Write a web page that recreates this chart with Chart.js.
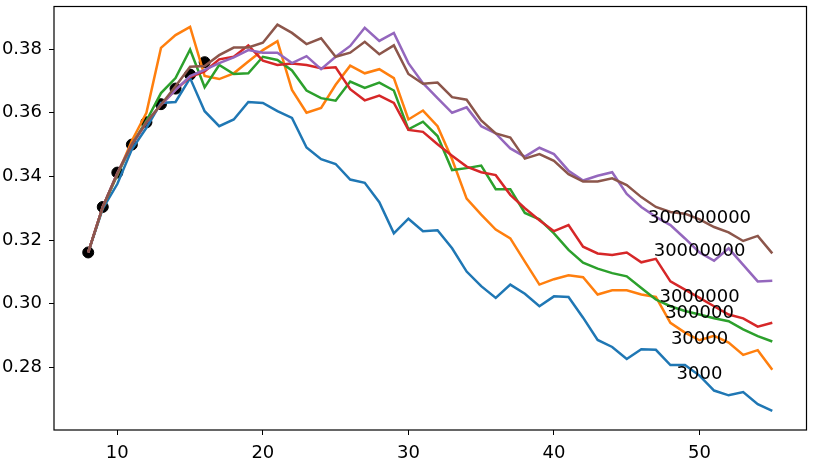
<!DOCTYPE html>
<html lang="en">
<head>
  <meta charset="UTF-8" />
  <title>Curves</title>
  <script src="https://cdn.jsdelivr.net/npm/chart.js"></script>
  <style>
    html, body {
      margin: 0;
      padding: 0;
      background: #fff;
    }
    #wrap {
      width: 813px;
      height: 458px;
    }
  </style>
</head>
<body>
  <div id="wrap"><canvas id="chart" width="813" height="458"></canvas></div>

  <script>
    // x positions 8..55
    const xValues = [8, 9, 10, 11, 12, 13, 14, 15, 16, 17, 18, 19, 20, 21, 22, 23, 24, 25, 26, 27, 28, 29, 30, 31,
      32, 33, 34, 35, 36, 37, 38, 39, 40, 41, 42, 43, 44, 45, 46, 47, 48, 49, 50, 51, 52, 53, 54, 55];

    const labels = ["3000", "30000", "300000", "3000000", "30000000", "300000000"];
    const colors = ["#1f77b4", "#ff7f0e", "#2ca02c", "#d62728", "#9467bd", "#8c564b"];

    const s3000 = [0.3161, 0.3299, 0.3376, 0.3485, 0.3553, 0.3631, 0.3634, 0.3709, 0.3605, 0.3558, 0.3579, 0.3634,
      0.3631, 0.3605, 0.3584, 0.3491, 0.3454, 0.3439, 0.3390, 0.3380, 0.3319, 0.3221, 0.3267, 0.3228,
      0.3231, 0.3174, 0.3101, 0.3055, 0.3018, 0.3060, 0.3031, 0.2992, 0.3023, 0.3021, 0.2956, 0.2886,
      0.2864, 0.2826, 0.2857, 0.2855, 0.2807, 0.2807, 0.2774, 0.2727, 0.2712, 0.2722, 0.2684, 0.2663];
    const s30000 = [0.3161, 0.3305, 0.3405, 0.3512, 0.3600, 0.3804, 0.3844, 0.3870, 0.3716, 0.3706, 0.3724, 0.3761,
      0.3797, 0.3825, 0.3672, 0.3600, 0.3615, 0.3688, 0.3748, 0.3724, 0.3737, 0.3709, 0.3579, 0.3607,
      0.3558, 0.3454, 0.3330, 0.3280, 0.3233, 0.3205, 0.3132, 0.3060, 0.3077, 0.3089, 0.3083, 0.3029,
      0.3042, 0.3042, 0.3029, 0.3021, 0.2940, 0.2909, 0.2885, 0.2899, 0.2878, 0.2839, 0.2854, 0.2792];
    const s300000 = [0.3161, 0.3302, 0.3405, 0.3500, 0.3575, 0.3662, 0.3709, 0.3799, 0.3680, 0.3750, 0.3722, 0.3724,
      0.3776, 0.3766, 0.3733, 0.3670, 0.3646, 0.3638, 0.3698, 0.3678, 0.3695, 0.3670, 0.3548, 0.3572,
      0.3527, 0.3420, 0.3426, 0.3434, 0.3360, 0.3360, 0.3285, 0.3265, 0.3221, 0.3169, 0.3129, 0.3110,
      0.3096, 0.3086, 0.3049, 0.3013, 0.2992, 0.2977, 0.2966, 0.2954, 0.2945, 0.2919, 0.2898, 0.2881];
    const s3000000 = [0.3161, 0.3304, 0.3410, 0.3500, 0.3570, 0.3625, 0.3672, 0.3712, 0.3730, 0.3768, 0.3776, 0.3812,
      0.3764, 0.3750, 0.3755, 0.3750, 0.3740, 0.3743, 0.3674, 0.3639, 0.3654, 0.3631, 0.3546, 0.3540,
      0.3501, 0.3465, 0.3431, 0.3413, 0.3404, 0.3342, 0.3300, 0.3262, 0.3228, 0.3247, 0.3179, 0.3158,
      0.3153, 0.3161, 0.3130, 0.3141, 0.3070, 0.3044, 0.3018, 0.2992, 0.2966, 0.2954, 0.2928, 0.2940];
    const s30000000 = [0.3161, 0.3304, 0.3410, 0.3500, 0.3570, 0.3625, 0.3672, 0.3715, 0.3735, 0.3756, 0.3774, 0.3797,
      0.3789, 0.3789, 0.3756, 0.3778, 0.3737, 0.3776, 0.3810, 0.3867, 0.3826, 0.3851, 0.3756, 0.3693,
      0.3646, 0.3600, 0.3617, 0.3558, 0.3535, 0.3488, 0.3462, 0.3490, 0.3470, 0.3418, 0.3387, 0.3402,
      0.3413, 0.3345, 0.3304, 0.3273, 0.3247, 0.3205, 0.3161, 0.3135, 0.3174, 0.3122, 0.3070, 0.3072];
    const s300000000 = [0.3161, 0.3304, 0.3410, 0.3500, 0.3570, 0.3625, 0.3683, 0.3745, 0.3747, 0.3781, 0.3805, 0.3805,
      0.3820, 0.3877, 0.3851, 0.3816, 0.3834, 0.3776, 0.3789, 0.3823, 0.3784, 0.3812, 0.3722, 0.3691,
      0.3695, 0.3649, 0.3641, 0.3576, 0.3535, 0.3522, 0.3456, 0.3470, 0.3449, 0.3407, 0.3384, 0.3384,
      0.3394, 0.3373, 0.3335, 0.3304, 0.3288, 0.3283, 0.3265, 0.3241, 0.3224, 0.3197, 0.3213, 0.3158];

    // black reference dots
    const dotX = [8, 9, 10, 11, 12, 13, 14, 15, 16];
    const dotY = [0.3161, 0.3304, 0.3412, 0.3500, 0.3570, 0.3627, 0.3676, 0.3720, 0.3759];

    const xTicks = [10, 20, 30, 40, 50];
    const yTicks = [0.28, 0.30, 0.32, 0.34, 0.36, 0.38];
    const labelX = 50;

    const seriesList = [s3000, s30000, s300000, s3000000, s30000000, s300000000];

    const datasets = seriesList.map((s, i) => ({
      label: labels[i],
      data: xValues.map((x, j) => ({ x: x, y: s[j] })),
      borderColor: colors[i],
      borderWidth: 2.5,
      pointRadius: 0,
      fill: false,
      tension: 0,
      order: seriesList.length - i
    }));

    datasets.push({
      label: "dots",
      type: "scatter",
      data: dotX.map((x, j) => ({ x: x, y: dotY[j] })),
      backgroundColor: "#000",
      borderColor: "#000",
      pointRadius: 5.5,
      showLine: false,
      order: 10
    });

    // frame + end labels
    const extras = {
      id: "extras",
      afterDatasetsDraw(chart) {
        const ctx = chart.ctx;
        const a = chart.chartArea;
        const xs = chart.scales.x;
        const ys = chart.scales.y;
        ctx.save();
        ctx.font = "18px 'DejaVu Sans'";
        ctx.fillStyle = "#000";
        ctx.textAlign = "center";
        ctx.textBaseline = "middle";
        const idx = xValues.indexOf(labelX);
        seriesList.forEach((s, i) => {
          ctx.fillText(labels[i], xs.getPixelForValue(labelX), ys.getPixelForValue(s[idx]) - 1);
        });
        ctx.strokeStyle = "#000";
        ctx.lineWidth = 1.2;
        ctx.strokeRect(a.left, a.top, a.right - a.left, a.bottom - a.top);
        ctx.restore();
      }
    };

    // no extra room for edge labels, the frame sets the box
    function noPad(scale) {
      scale.paddingTop = 0;
      scale.paddingBottom = 0;
      scale.paddingLeft = 0;
      scale.paddingRight = 0;
    }

    new Chart(document.getElementById("chart"), {
      type: "line",
      data: { datasets: datasets },
      options: {
        responsive: false,
        animation: false,
        layout: { padding: { top: 3, right: 3, left: 0, bottom: 0 } },
        plugins: {
          legend: { display: false },
          tooltip: { enabled: false }
        },
        scales: {
          x: {
            type: "linear",
            min: 5.65,
            max: 57.35,
            afterBuildTicks: (scale) => { scale.ticks = xTicks.map(v => ({ value: v })); },
            afterFit: (scale) => { scale.height = 28; noPad(scale); },
            grid: { drawOnChartArea: false, drawTicks: true, tickLength: 5, color: "#000" },
            border: { display: false },
            ticks: { color: "#000", font: { family: "DejaVu Sans", size: 18 }, padding: 8, maxRotation: 0 }
          },
          y: {
            min: 0.2603,
            max: 0.3934,
            afterBuildTicks: (scale) => { scale.ticks = yTicks.map(v => ({ value: v })); },
            afterFit: (scale) => { scale.width = 54; noPad(scale); },
            grid: { drawOnChartArea: false, drawTicks: true, tickLength: 5, color: "#000" },
            border: { display: false },
            ticks: {
              color: "#000",
              font: { family: "DejaVu Sans", size: 18 },
              padding: 7,
              callback: (v) => v.toFixed(2)
            }
          }
        }
      },
      plugins: [extras]
    });
  </script>
</body>
</html>
